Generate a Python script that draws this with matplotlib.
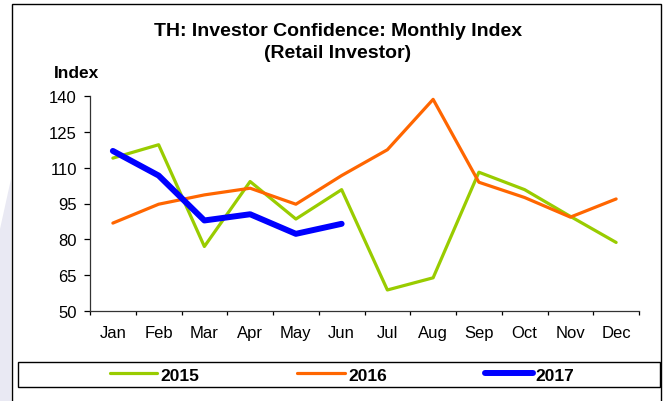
import matplotlib
matplotlib.use("Agg")
import matplotlib.pyplot as plt
from matplotlib.patches import Rectangle, Polygon

months = ["Jan", "Feb", "Mar", "Apr", "May", "Jun", "Jul", "Aug", "Sep", "Oct", "Nov", "Dec"]
s2015 = [114.0, 119.6, 77.0, 104.2, 88.5, 100.8, 58.8, 63.9, 108.1, 100.8, 89.6, 78.7]
s2016 = [86.8, 94.7, 98.6, 101.4, 94.7, 106.7, 117.5, 138.6, 103.9, 97.5, 89.3, 96.9]
s2017 = [117.0, 106.7, 87.9, 90.5, 82.3, 86.5]
yticks = [50, 65, 80, 95, 110, 125, 140]

plt.rcParams['font.family'] = ['Liberation Sans', 'DejaVu Sans']

W, H = 667, 402
fig = plt.figure(figsize=(W / 100, H / 100), dpi=100)
fig.patch.set_facecolor("white")

# faint lavender background at left edge
fig.patches.append(Polygon([(0, 0), (11 / W, 0), (11 / W, 1 - 180 / H), (0, 1 - 230 / H)],
                           closed=True, transform=fig.transFigure, facecolor="#E9E9F3",
                           edgecolor="none", zorder=0))
# outer border
fig.patches.append(Rectangle((12 / W, -0.05), (661 - 12) / W, 1 - 5 / H + 0.05,
                             transform=fig.transFigure, fill=False, edgecolor="black",
                             linewidth=1.0, zorder=1))

ax = fig.add_axes([90 / W, 1 - 312 / H, (639 - 90) / W, (312 - 97) / H])
x = list(range(len(months)))
ax.plot(x, s2015, color="#99CC00", linewidth=2.3, label="2015", solid_capstyle="round", zorder=2)
ax.plot(x, s2016, color="#FF6600", linewidth=2.3, label="2016", solid_capstyle="round", zorder=3)
ax.plot(x[:len(s2017)], s2017, color="#0000FF", linewidth=4.3, label="2017",
        solid_capstyle="round", zorder=4)

ax.set_xlim(-0.5, len(months) - 0.5)
ax.set_ylim(50, 140)
ax.set_yticks(yticks)
ax.set_xticks(x)
ax.set_xticklabels(months)
ax.set_xticks([i - 0.5 for i in range(len(months) + 1)], minor=True)
ax.tick_params(axis="x", which="major", length=0, pad=10, labelsize=12)
ax.tick_params(axis="x", which="minor", length=3, direction="out", width=0.9)
ax.tick_params(axis="y", length=4.5, direction="out", width=0.9, pad=5, labelsize=12)
for s in ["top", "right"]:
    ax.spines[s].set_visible(False)
for s in ["left", "bottom"]:
    ax.spines[s].set_linewidth(0.9)
    ax.spines[s].set_color("#333333")

fig.text(338 / W, 1 - 32 / H, "TH: Investor Confidence: Monthly Index", ha="center", va="center",
         fontsize=14, fontweight="bold")
fig.text(338 / W, 1 - 54 / H, "(Retail Investor)", ha="center", va="center",
         fontsize=14, fontweight="bold")
fig.text(54 / W, 1 - 73 / H, "Index", ha="left", va="center", fontsize=12.5, fontweight="bold")

# legend box
fig.patches.append(Rectangle((18 / W, 1 - 388 / H), (660 - 18) / W, 25 / H,
                             transform=fig.transFigure, fill=False, edgecolor="black",
                             linewidth=1.0, zorder=1))
handles, labels = ax.get_legend_handles_labels()
leg = fig.legend(handles, labels, loc="center", bbox_to_anchor=(342 / W, 1 - 376 / H),
                 ncol=3, frameon=False, prop={"weight": "bold", "size": 12.5},
                 handlelength=2.75, handletextpad=0.17, columnspacing=5.65,
                 borderpad=0, borderaxespad=0)

fig.savefig("out.png", dpi=100, facecolor="white")
